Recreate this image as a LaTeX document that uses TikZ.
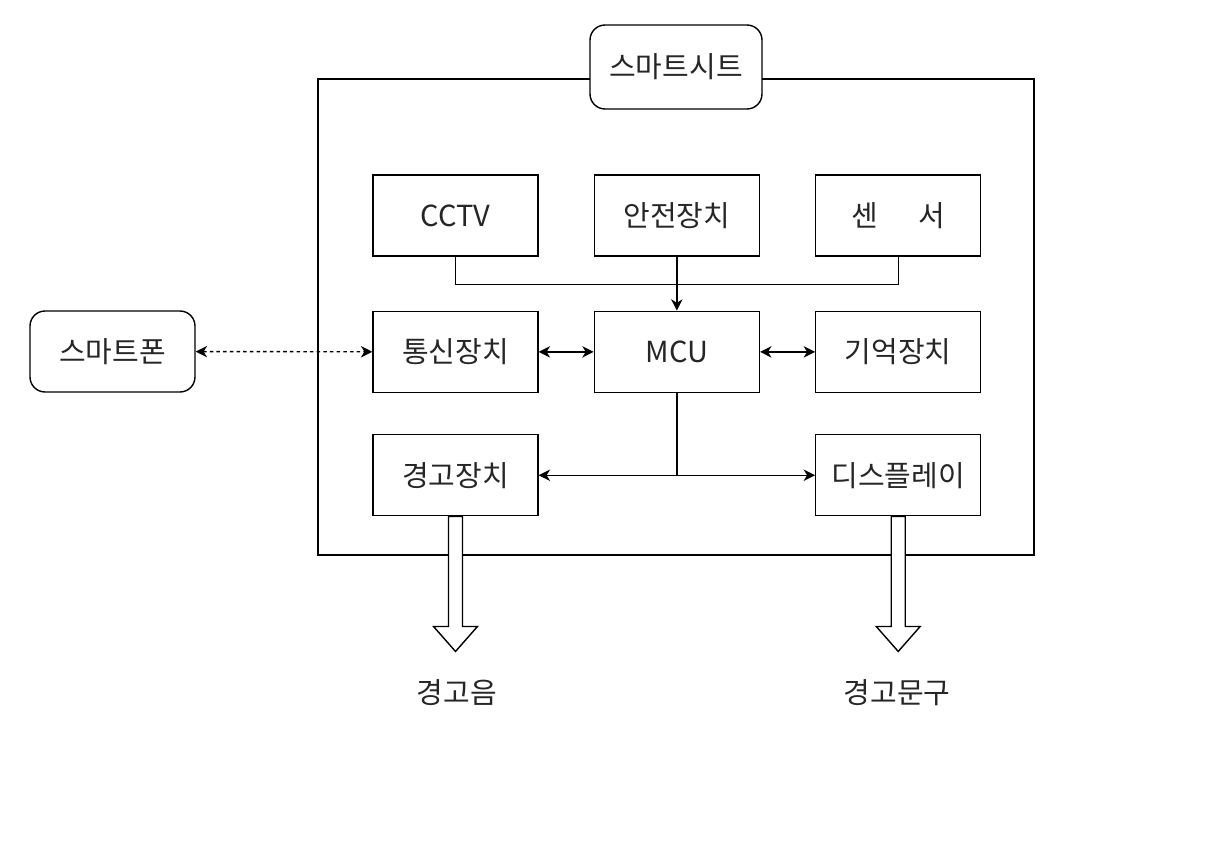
\documentclass[tikz,border=0pt]{standalone}
\usepackage{fontspec}
\setmainfont{Noto Sans CJK KR}
\usetikzlibrary{positioning,arrows.meta}

\begin{document}
\begin{tikzpicture}[x=0.02cm, y=-0.02cm, node distance = 1.1cm, > = {Stealth[length=6.5pt, width=6.5pt, inset=2pt]}, line width=0.8pt,
font=\fontsize{16.5}{19}\selectfont,
block/.style={ rectangle, draw, text = black!85, minimum width = 3.3cm, minimum height = 1.62cm },
rblock/.style={ rectangle, draw, text = black!85, rounded corners = 0.3cm, minimum width = 3.3cm, minimum height = 1.62cm, fill = white }]

\useasboundingbox (0,0) rectangle (1205,845);

%seat frame
\draw (318,79) rectangle (1034,555);
\node (seat) [rblock, minimum width = 3.44cm, minimum height = 1.68cm] at (676,67) {스마트시트};

%top row
\node (cctv) [block] at (455.5,215.5) {CCTV};
\node (safety) [block, right = of cctv] {안전장치};
\node (sensor) [block, right = of safety] {센\hspace{1.4em}서};

%middle row
\node (comm) [block, below = 1.08cm of cctv] {통신장치};
\node (mcu) [block, right = of comm] {MCU};
\node (mem) [block, right = of mcu] {기억장치};

%bottom row
\node (warn) [block, below = 0.82cm of comm] {경고장치};
\node (disp) [block, below = 0.82cm of mem] {디스플레이};

\node (phone) [rblock] at (112.5,351.5) {스마트폰};

\draw (cctv.south) -- ++(0,28) -| (sensor.south);
\draw [->] (safety) -- (mcu);
\draw [<->] (comm) -- (mcu);
\draw [<->] (mcu) -- (mem);
\draw (mcu.south) -- (mcu.south |- warn.east);
\draw [<->] (warn) -- (disp);
\draw [<->, dash pattern = on 2pt off 1.8pt] (phone) -- (comm);

%output arrows
\draw [fill = white] (warn.south) ++(-7,0) -- ++(0,110) -- ++(-15,0) -- ++(22,25) -- ++(22,-25) -- ++(-15,0) -- ++(0,-110) -- cycle;
\draw [fill = white] (disp.south) ++(-7,0) -- ++(0,110) -- ++(-15,0) -- ++(22,25) -- ++(22,-25) -- ++(-15,0) -- ++(0,-110) -- cycle;
\node (sound) [text = black!85] at (457,693) {경고음};
\node (text) [text = black!85] at (897,693) {경고문구};

\end{tikzpicture}
\end{document}
